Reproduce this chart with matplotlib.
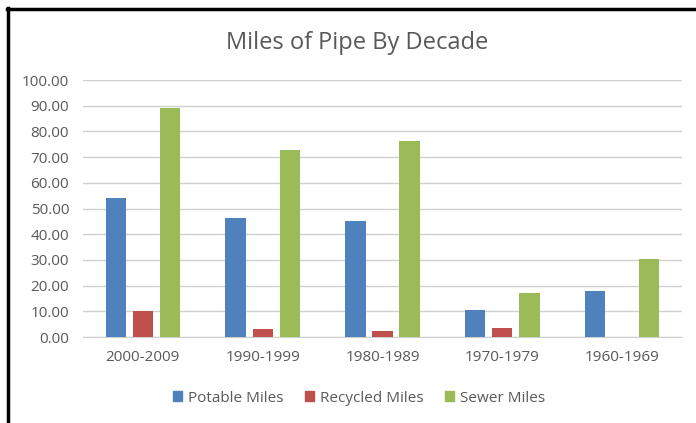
import numpy as np
import matplotlib.pyplot as plt
from matplotlib.lines import Line2D
from matplotlib.patches import Patch


decades = ["2000-2009", "1990-1999", "1980-1989", "1970-1979", "1960-1969"]
potable = [53.9, 46.4, 45.3, 10.6, 17.8]
recycled = [10.2, 3.0, 2.2, 3.5, 0.0]
sewer = [89.0, 72.6, 76.2, 17.1, 30.5]
y_ticks = [0, 10, 20, 30, 40, 50, 60, 70, 80, 90, 100]

series_names = ["Potable Miles", "Recycled Miles", "Sewer Miles"]
colors = ["#4F81BD", "#C0504D", "#9BBB59"]
text_color = "#595959"

plt.rcParams["font.family"] = ["Open Sans", "DejaVu Sans"]

W, H = 696, 423
fig = plt.figure(figsize=(W / 100, H / 100), dpi=100)
ax = fig.add_axes([83 / W, 86 / H, 599 / W, 257 / H])

x = np.arange(len(decades))
width = 0.17
step = 0.226
for i, (vals, color) in enumerate(zip([potable, recycled, sewer], colors)):
    ax.bar(x + (i - 1) * step, vals, width, color=color, zorder=3)

ax.set_xlim(-0.5, len(decades) - 0.5)
ax.set_ylim(0, 100)
ax.set_yticks(y_ticks)
ax.set_yticklabels([f"{v:.2f}" for v in y_ticks])
ax.set_xticks(x)
ax.set_xticklabels(decades)
ax.tick_params(axis="y", length=0, pad=10, labelsize=11, labelcolor=text_color)
ax.tick_params(axis="x", length=0, pad=9, labelsize=11, labelcolor=text_color)
ax.grid(axis="y", color="#d0d0d0", linewidth=1, zorder=0)
for side in ["top", "right", "left"]:
    ax.spines[side].set_visible(False)
ax.spines["bottom"].set_color("#d0d0d0")

fig.text(357 / W, 1 - 43 / H, "Miles of Pipe By Decade", ha="center", va="center",
         fontsize=17, color=text_color)

handles = [Patch(color=c) for c in colors]
fig.legend(handles, series_names, loc="center", bbox_to_anchor=(359 / W, 1 - 398 / H),
           ncol=3, frameon=False, fontsize=11, labelcolor=text_color,
           handlelength=0.6, handleheight=0.6, handletextpad=0.4, columnspacing=1.4)

# black frame on top and left, as in the screenshot
fig.add_artist(Line2D([8 / W, 8 / W], [0, 1 - 8 / H], color="black", linewidth=2.5))
fig.add_artist(Line2D([7 / W, 1], [1 - 9 / H, 1 - 9 / H], color="black", linewidth=2.5))

fig.savefig("out.png", dpi=100)
